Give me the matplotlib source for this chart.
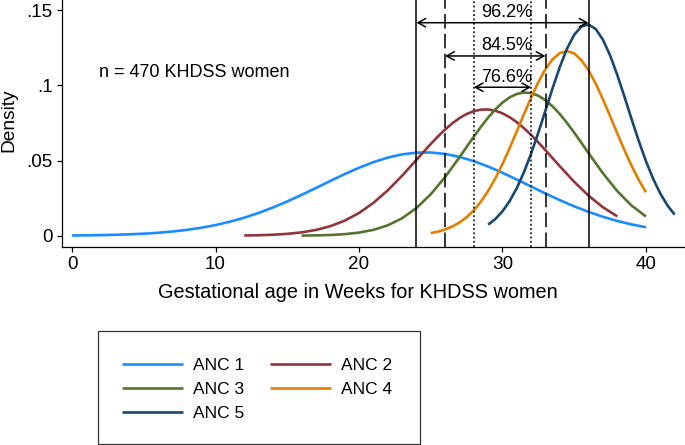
import matplotlib
matplotlib.use("Agg")
import matplotlib.pyplot as plt
from matplotlib.patches import Rectangle

plt.rcParams['font.family'] = ['Liberation Sans', 'DejaVu Sans']

# density curves (week, density)
anc1_x = list(range(0, 41))
anc1_y = [0.00016, 0.00026, 0.00040, 0.00062, 0.00093, 0.00136, 0.00197, 0.00279,
          0.00388, 0.00530, 0.00709, 0.00931, 0.01199, 0.01513, 0.01875, 0.02278,
          0.02715, 0.03174, 0.03640, 0.04095, 0.04518, 0.04890, 0.05191, 0.05406,
          0.05522, 0.05532, 0.05437, 0.05242, 0.04956, 0.04597, 0.04182, 0.03733,
          0.03267, 0.02805, 0.02363, 0.01952, 0.01582, 0.01258, 0.00981, 0.00750,
          0.00562]

anc2_x = [12, 13, 14, 15, 16, 17, 18, 19, 20, 21, 22, 23, 24, 24.5, 25, 25.5, 26, 26.5,
          27, 27.5, 28, 28.5, 29, 29.5, 30, 30.5, 31, 31.5, 32, 32.5, 33, 33.5, 34,
          35, 36, 37, 38]
anc2_y = [0.00016, 0.00033, 0.00066, 0.00124, 0.00223, 0.00384, 0.00633, 0.01000,
          0.01510, 0.02181, 0.03014, 0.03985, 0.05041, 0.05575, 0.06099, 0.06598,
          0.07059, 0.07470, 0.07817, 0.08090, 0.08281, 0.08382, 0.08392, 0.08308,
          0.08135, 0.07878, 0.07545, 0.07146, 0.06694, 0.06201, 0.05682, 0.05148,
          0.04613, 0.03583, 0.02662, 0.01893, 0.01287]

anc3_x = [16, 17, 18, 19, 20, 21, 22, 23, 24, 25, 26, 27, 27.5, 28, 28.5, 29, 29.5,
          30, 30.5, 31, 31.5, 32, 32.5, 33, 33.5, 34, 34.5, 35, 35.5, 36, 37, 38,
          39, 40]
anc3_y = [0.00009, 0.00022, 0.00049, 0.00104, 0.00206, 0.00388, 0.00690, 0.01159,
          0.01838, 0.02754, 0.03898, 0.05211, 0.05900, 0.06584, 0.07242, 0.07855,
          0.08398, 0.08852, 0.09199, 0.09425, 0.09519, 0.09479, 0.09305, 0.09005,
          0.08592, 0.08082, 0.07494, 0.06850, 0.06174, 0.05487, 0.04150, 0.02966,
          0.02002, 0.01276]

anc4_x = [25, 25.5, 26, 26.5, 27, 27.5, 28, 28.5, 29, 29.5, 30, 30.5, 31, 31.5, 32,
          32.5, 33, 33.5, 34, 34.5, 35, 35.5, 36, 36.5, 37, 37.5, 38, 38.5, 39, 39.5, 40]
anc4_y = [0.00176, 0.00272, 0.00411, 0.00607, 0.00875, 0.01231, 0.01692, 0.02271,
          0.02978, 0.03813, 0.04766, 0.05821, 0.06942, 0.08086, 0.09196, 0.10215,
          0.11082, 0.11740, 0.12147, 0.12275, 0.12113, 0.11674, 0.10987, 0.10100,
          0.09066, 0.07949, 0.06805, 0.05691, 0.04647, 0.03706, 0.02886]

anc5_x = [29, 29.5, 30, 30.5, 31, 31.5, 32, 32.5, 33, 33.5, 34, 34.5, 35, 35.5, 36,
          36.5, 37, 37.5, 38, 38.5, 39, 39.5, 40, 40.5, 41, 41.5, 42]
anc5_y = [0.00734, 0.01109, 0.01624, 0.02304, 0.03171, 0.04230, 0.05472, 0.06861,
          0.08340, 0.09829, 0.11231, 0.12441, 0.13360, 0.13909, 0.14039, 0.13738,
          0.13032, 0.11987, 0.10688, 0.09239, 0.07743, 0.06291, 0.04955, 0.03785,
          0.02801, 0.02010, 0.01399]

labels = ['ANC 1', 'ANC 2', 'ANC 3', 'ANC 4', 'ANC 5']
colors = ['#1a8cff', '#90353b', '#55752f', '#e37e00', '#1a476f']

# reference lines and coverage arrows
solid_at = [24, 36]
dashed_at = [26, 33]
dotted_at = [28, 32]
spans = [(24, 36, 0.1416, '96.2%'), (26, 33, 0.1195, '84.5%'), (28, 32, 0.0987, '76.6%')]

W, H = 685, 445
fig = plt.figure(figsize=(W / 100, H / 100), dpi=100)
ax = fig.add_axes([62 / W, 1 - 247 / H, 623 / W, 247 / H])

curves = [(anc1_x, anc1_y), (anc2_x, anc2_y), (anc3_x, anc3_y), (anc4_x, anc4_y), (anc5_x, anc5_y)]
handles = []
for (xs, ys), lab, col in zip(curves, labels, colors):
    ln, = ax.plot(xs, ys, color=col, lw=1.9, label=lab, solid_capstyle='butt')
    handles.append(ln)

for v in solid_at:
    ax.axvline(v, color='black', lw=1.1)
for v in dashed_at:
    ax.axvline(v, color='black', lw=1.1, linestyle=(0, (9.5, 3.5)))
for v in dotted_at:
    ax.axvline(v, color='black', lw=1.1, linestyle=(0, (1.2, 1.6)))

for x0, x1, yy, txt in spans:
    ax.annotate('', xy=(x0, yy), xytext=(x1, yy),
                arrowprops=dict(arrowstyle='<->,head_length=0.55,head_width=0.3',
                                color='black', lw=1.1, shrinkA=0, shrinkB=0,
                                mutation_scale=10))
    ax.text(30.3, yy + 0.0037, txt, ha='center', va='baseline', fontsize=13)

ax.text(1.85, 0.1057, 'n = 470 KHDSS women', ha='left', va='baseline', fontsize=13)

ax.set_xlim(-0.7, 42.72)
ax.set_ylim(-0.0075, 0.1567)
ax.set_xticks([0, 10, 20, 30, 40])
ax.set_yticks([0, 0.05, 0.1, 0.15])
ax.set_yticklabels(['0', '.05', '.1', '.15'])
ax.tick_params(direction='out', length=3.6, width=0.9, labelsize=13.6, pad=3)
for s in ['top', 'right']:
    ax.spines[s].set_visible(False)
for s in ['left', 'bottom']:
    ax.spines[s].set_linewidth(0.9)

fig.text(358 / W, 1 - 297.7 / H, 'Gestational age in Weeks for KHDSS women',
         ha='center', va='baseline', fontsize=14.3)
fig.text(9 / W, 1 - 120 / H, 'Density', rotation=90, ha='center', va='center', fontsize=13.8)

# legend: row-wise order, box drawn separately
fig.patches.append(Rectangle((98 / W, 1 - 444 / H), 322 / W, 113 / H, transform=fig.transFigure,
                             facecolor='white', edgecolor='#333333', lw=0.9))
order = [0, 2, 4, 1, 3]
leg = fig.legend([handles[i] for i in order], [labels[i] for i in order],
                 loc='upper left', bbox_to_anchor=(122 / W, 1 - 358 / H), ncol=2,
                 fontsize=12.5, frameon=False, handlelength=3.5,
                 handletextpad=0.57, columnspacing=1.52, labelspacing=0.5,
                 borderpad=0, borderaxespad=0)

fig.savefig('out.png', dpi=100)
